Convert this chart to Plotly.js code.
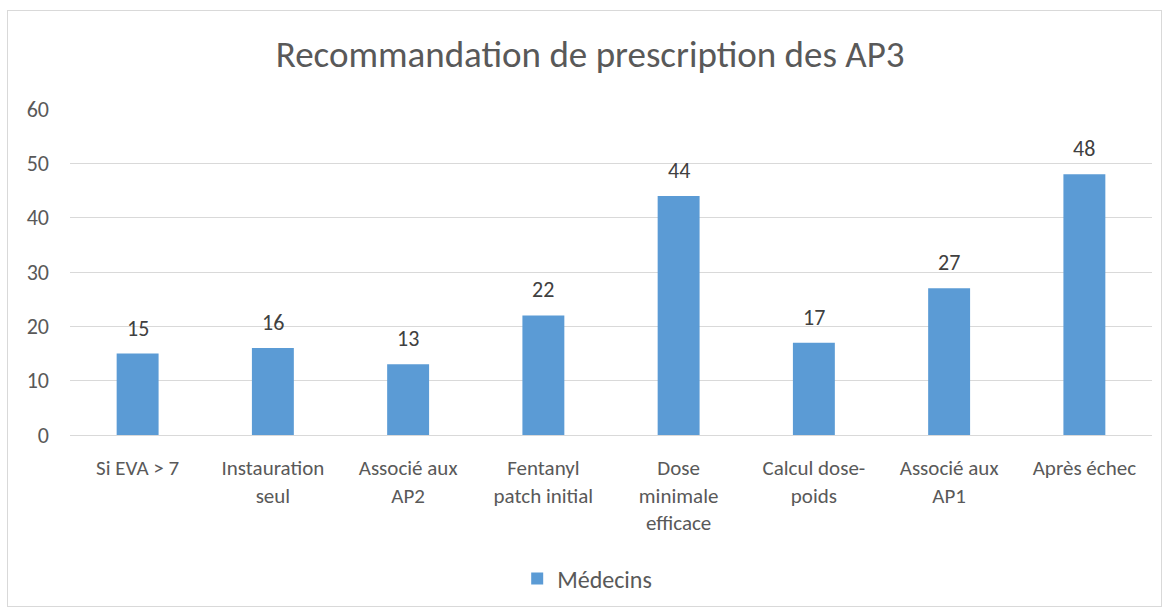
<!DOCTYPE html>
<html><head><meta charset="utf-8">
<script src="https://cdn.plot.ly/plotly-3.0.1.min.js"></script>
<style>body{margin:0;padding:0;background:#fff}#c{width:1164px;height:612px;position:relative}
#b{position:absolute;left:7px;top:10px;width:1153px;height:595px;border:1px solid #D9D9D9;pointer-events:none}</style>
</head><body><div id="c"></div><div id="b"></div>
<script>
const categories = ["Si EVA > 7", "Instauration<br>seul", "Associé aux<br>AP2", "Fentanyl<br>patch initial", "Dose<br>minimale<br>efficace", "Calcul dose-<br>poids", "Associé aux<br>AP1", "Après échec"];
const medecins = [15, 16, 13, 22, 44, 17, 27, 48];
const seriesName = "Médecins";
const titleText = "Recommandation de prescription des AP3";

const font = "Calibri, Carlito, 'Open Sans', sans-serif";
const grey = "#595959";
const ann = categories.map((c, i) => ({
  x: c, y: medecins[i], xref: 'x', yref: 'y', text: String(medecins[i]),
  showarrow: false, yanchor: 'bottom', yshift: 10, font: {size: 22, color: "#404040", family: font}
}));
Plotly.newPlot('c', [{
  type: 'bar', x: categories, y: medecins, name: seriesName,
  marker: {color: '#5B9BD5'}, showlegend: true
}], {
  width: 1164, height: 612,
  margin: {l: 70, r: 12, t: 109, b: 176},
  paper_bgcolor: '#fff', plot_bgcolor: '#fff',
  bargap: 0.69,
  title: {text: titleText, font: {size: 37, color: grey, family: font}, x: 0.507, xanchor: 'center', y: 0.912, yanchor: 'middle'},
  xaxis: {tickfont: {size: 21, color: grey, family: font}, showline: true, linecolor: '#D9D9D9', ticks: '', tickangle: 0, ticklabelstandoff: 14, automargin: false},
  yaxis: {range: [0, 60], dtick: 10, tickfont: {size: 22, color: grey, family: font}, gridcolor: '#D9D9D9', zeroline: false, showline: false, ticks: '', ticklabelstandoff: 20, automargin: false},
  legend: {orientation: 'h', x: 0.478, xanchor: 'center', y: -0.437, yanchor: 'middle', font: {size: 24, color: grey, family: font}},
  annotations: ann
}, {displayModeBar: false, staticPlot: true});
</script></body></html>
